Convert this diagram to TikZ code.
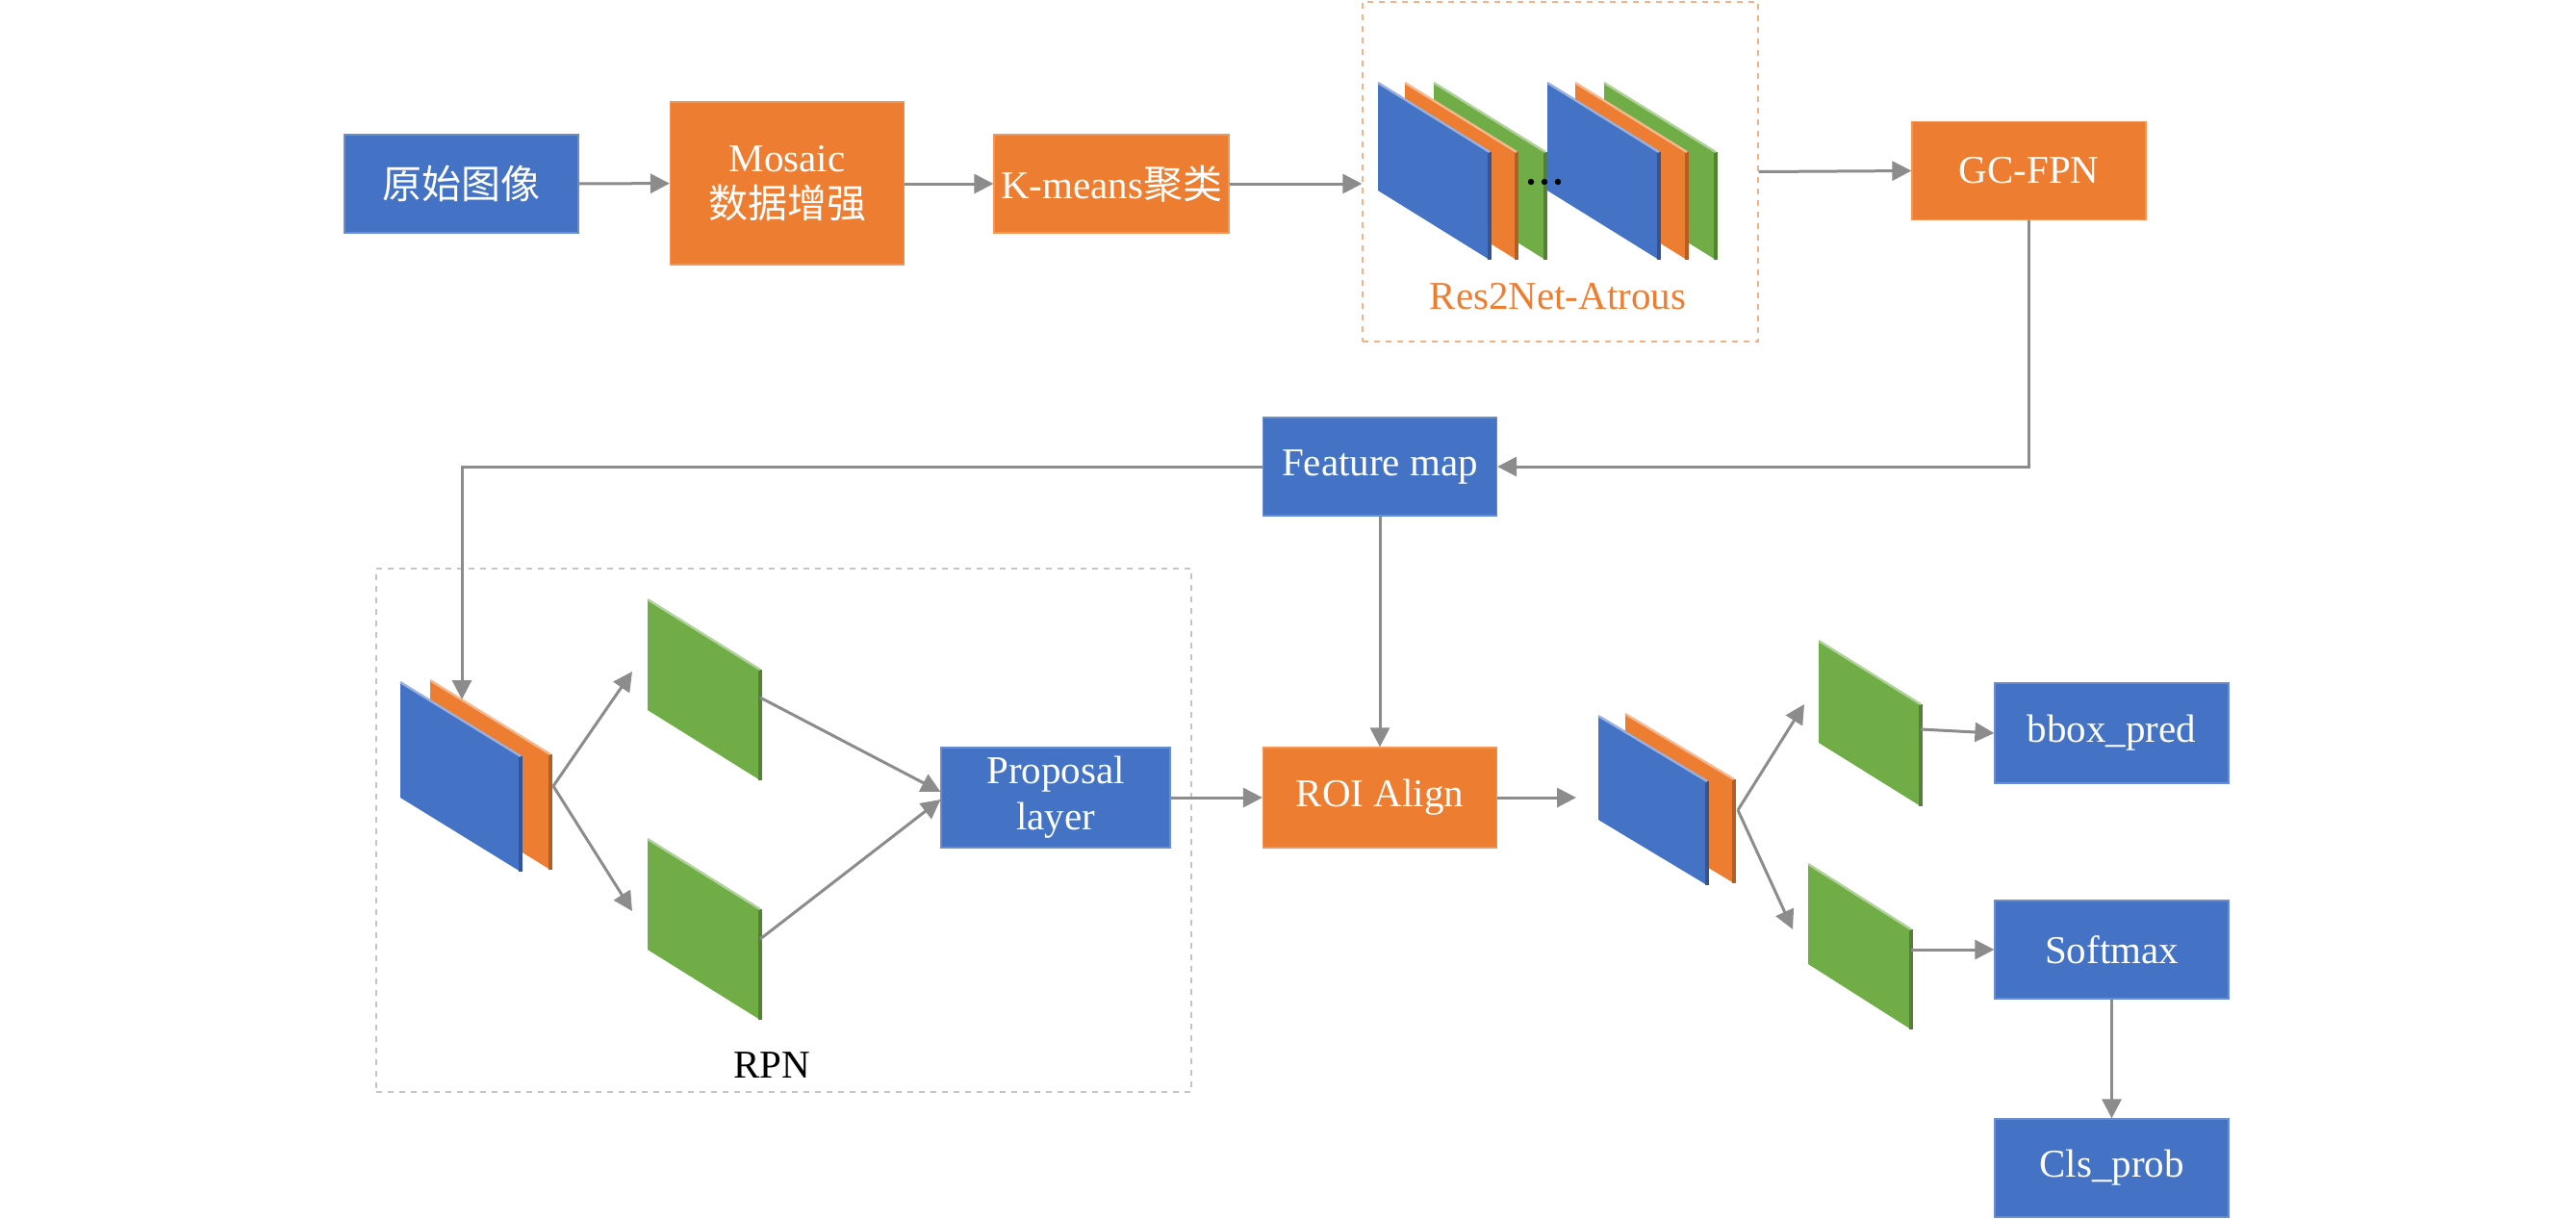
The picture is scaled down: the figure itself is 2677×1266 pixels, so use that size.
\documentclass[tikz,border=0pt]{standalone}
\usepackage{fontspec}
\setmainfont{Liberation Serif}
\newfontfamily\cjk{Noto Sans CJK SC}
\usetikzlibrary{calc,arrows.meta}
\definecolor{boxBlue}{RGB}{68,114,196}
\definecolor{boxOrange}{RGB}{237,125,49}
\definecolor{mapGreen}{RGB}{112,173,71}
\definecolor{lineGray}{RGB}{140,140,140}
\definecolor{frameGray}{RGB}{196,196,196}
\definecolor{frameOrange}{RGB}{244,177,131}
\newcommand{\FeatPlate}[6]{%
  \fill[#6] (#1,#2) -- ++(#3,#5) -- ++(0,#4) -- ++(-#3,-#5) -- cycle;
  \draw[#6!75!black, line width=1.6pt] (#1+#3,#2+#5) -- ++(0,#4);
  \draw[#6!55!white, line width=1.2pt] (#1,#2) -- ++(#3,#5);}
\tikzset{
  blk/.style={rectangle, minimum width=121.5pt, minimum height=51pt, inner sep=2pt,
    text=white, align=center, line width=0.6pt, font=\fontsize{20.5}{24}\selectfont},
  blkblue/.style={blk, fill=boxBlue, draw=boxBlue!80!white},
  blkorange/.style={blk, fill=boxOrange, draw=boxOrange!80!white},
  flow/.style={draw=lineGray, line width=1.5pt, -{Triangle[length=10pt,width=10pt]}},
}

\begin{document}
\begin{tikzpicture}[x=0.5pt, y=-0.5pt]
\useasboundingbox (0,0) rectangle (2677,1266);

\node[blkblue] (orig) at (479.5,191) {\cjk 原始图像};
\node[blkorange, minimum height=84.5pt] (mosaic) at (818,190.5) {Mosaic\\{\cjk 数据增强}};
\node[blkorange, minimum width=122pt] (kmeans) at (1155,191) {K-means{\cjk 聚类}};
\node[draw=frameOrange, dashed, line width=0.6pt, minimum width=205.5pt, minimum height=176.5pt] (res2net) at (1621.5,178.5) {};
\node[blkorange] (gcfpn) at (2108.5,177.5) {GC-FPN};
\node[blkblue] (featmap) at (1434,485) {Feature map};
\node[draw=frameGray, dashed, line width=0.6pt, minimum width=423.5pt, minimum height=272pt] (rpn) at (814.5,863) {};
\node[blkblue, minimum width=119pt, minimum height=52pt] (proposal) at (1097,829) {Proposal\\layer};
\node[blkorange, minimum height=52pt] (roi) at (1434,829) {ROI Align};
\node[blkblue, minimum height=52pt] (bbox) at (2194.5,762) {bbox\_pred};
\node[blkblue] (softmax) at (2194.5,987) {Softmax};
\node[blkblue] (cls) at (2194.5,1214) {Cls\_prob};
\node[text=boxOrange, font=\fontsize{20.5}{24}\selectfont] (res2label) at (1619,308) {Res2Net-Atrous};
\node[font=\fontsize{20.5}{24}\selectfont] (rpnlabel) at (802,1107) {RPN};

\FeatPlate{1490}{86}{116}{112}{72}{mapGreen}
\FeatPlate{1460}{86}{116}{112}{72}{boxOrange}
\FeatPlate{1432}{86}{116}{112}{72}{boxBlue}
\FeatPlate{1667}{86}{116}{112}{72}{mapGreen}
\FeatPlate{1637}{86}{116}{112}{72}{boxOrange}
\FeatPlate{1608}{86}{116}{112}{72}{boxBlue}
\foreach \dx in {1591,1605,1619}
  \fill (\dx,189) circle (1.6pt);

\FeatPlate{447}{707}{125}{120}{77}{boxOrange}
\FeatPlate{416}{709}{125}{120}{77}{boxBlue}
\FeatPlate{673}{623}{117}{115}{73}{mapGreen}
\FeatPlate{673}{872}{117}{115}{73}{mapGreen}

\FeatPlate{1689}{742}{113}{108}{68}{boxOrange}
\FeatPlate{1661}{744}{113}{108}{68}{boxBlue}
\FeatPlate{1890}{666}{106}{106}{66}{mapGreen}
\FeatPlate{1879}{898}{107}{104}{68}{mapGreen}

\coordinate (rpnin) at (480,727);
\coordinate (rpnsplit) at (575,817);
\coordinate (rpnup) at (657,698);
\coordinate (rpndown) at (657,947);
\coordinate (rpnupout) at (790,725);
\coordinate (rpndownout) at (790,976);
\coordinate (roiin) at (1638,829);
\coordinate (roisplit) at (1806,842);
\coordinate (roiup) at (1875,732);
\coordinate (roidown) at (1863,966);
\coordinate (roiupout) at (1996,758);
\coordinate (roidownout) at (1986,987);

\draw[flow] (orig) -- (mosaic);
\draw[flow] (mosaic.east |- orig) -- (kmeans);
\draw[flow] (kmeans.east) -- (kmeans.east -| res2net.west);
\draw[flow] (res2net.east) -- (gcfpn.west);
\draw[flow] (gcfpn.south) |- (featmap.east);
\draw[flow] (featmap.west) -| (rpnin);
\draw[flow] (featmap) -- (roi);
\draw[flow] (rpnsplit) -- (rpnup);
\draw[flow] (rpnsplit) -- (rpndown);
\draw[flow] (rpnupout) -- ([yshift=3pt]proposal.west);
\draw[flow] (rpndownout) -- ([yshift=-1pt]proposal.west);
\draw[flow] (proposal) -- (roi);
\draw[flow] (roi) -- (roiin);
\draw[flow] (roisplit) -- (roiup);
\draw[flow] (roisplit) -- (roidown);
\draw[flow] (roiupout) -- (bbox.west);
\draw[flow] (roidownout) -- (softmax.west);
\draw[flow] (softmax) -- (cls);
\end{tikzpicture}
\end{document}
